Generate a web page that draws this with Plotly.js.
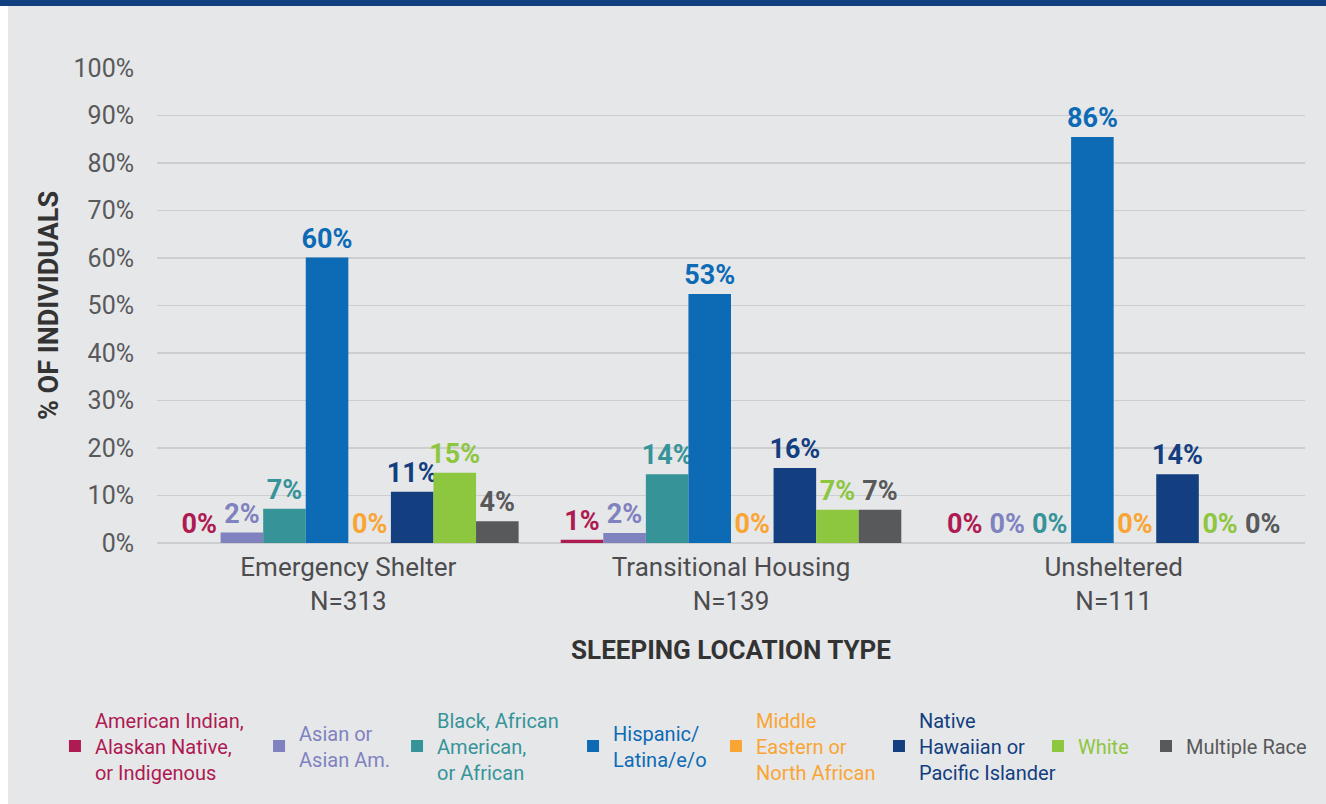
<!DOCTYPE html>
<html>
<head>
<meta charset="utf-8">
<script src="https://cdn.plot.ly/plotly-3.0.1.min.js"></script>
<style>
  html, body { margin: 0; padding: 0; background: #ffffff; }
  #wrap { position: relative; width: 1326px; height: 804px; background: #ffffff; overflow: hidden; }
  #topbar { position: absolute; left: 0; top: 0; width: 1326px; height: 6px; background: #123f80; }
  #chart { position: absolute; left: 8px; top: 6px; width: 1318px; height: 798px; }
</style>
</head>
<body>
<div id="wrap">
  <div id="topbar"></div>
  <div id="chart"></div>
</div>
<script>
// ---- Data ----
const categories = ["Emergency Shelter<br>N=313", "Transitional Housing<br>N=139", "Unsheltered<br>N=111"];

const seriesNames = [
  "American Indian,<br>Alaskan Native,<br>or Indigenous",
  "Asian or<br>Asian Am.",
  "Black, African<br>American,<br>or African",
  "Hispanic/<br>Latina/e/o",
  "Middle<br>Eastern or<br>North African",
  "Native<br>Hawaiian or<br>Pacific Islander",
  "White",
  "Multiple Race"
];

const seriesColors = ["#ae1a52", "#8082c0", "#369499", "#0d6bb5", "#f9a534", "#133e7f", "#8dc63f", "#58595b"];

// values per series: [Emergency Shelter, Transitional Housing, Unsheltered]
const americanIndian = [0, 0.7, 0];
const asian          = [2.2, 2.1, 0];
const black          = [7.2, 14.5, 0];
const hispanic       = [60.1, 52.4, 85.5];
const mena           = [0, 0, 0];
const nhpi           = [10.8, 15.8, 14.5];
const white          = [14.8, 7.0, 0];
const multiple       = [4.6, 7.0, 0];

// printed labels
const americanIndianLabels = ["0%", "1%", "0%"];
const asianLabels          = ["2%", "2%", "0%"];
const blackLabels          = ["7%", "14%", "0%"];
const hispanicLabels       = ["60%", "53%", "86%"];
const menaLabels           = ["0%", "0%", "0%"];
const nhpiLabels           = ["11%", "16%", "14%"];
const whiteLabels          = ["15%", "7%", "0%"];
const multipleLabels       = ["4%", "7%", "0%"];

const yTickVals = [0, 10, 20, 30, 40, 50, 60, 70, 80, 90, 100];
const yTickText = ["0%", "10%", "20%", "30%", "40%", "50%", "60%", "70%", "80%", "90%", "100%"];

const allValues = [americanIndian, asian, black, hispanic, mena, nhpi, white, multiple];
const allLabels = [americanIndianLabels, asianLabels, blackLabels, hispanicLabels, menaLabels, nhpiLabels, whiteLabels, multipleLabels];

const FONT = "Roboto, 'Open Sans', sans-serif";

// one legend per series so that each entry sits where the original puts it
const legendX = [-0.0889, 0.0889, 0.2091, 0.3624, 0.4869, 0.6289, 0.7674, 0.8615];
const legendIds = ["legend", "legend2", "legend3", "legend4", "legend5", "legend6", "legend7", "legend8"];

const traces = allValues.map((vals, i) => ({
  type: "bar",
  x: categories,
  y: vals,
  name: '<span style="color:' + seriesColors[i] + '">' + seriesNames[i] + '</span>',
  legend: legendIds[i],
  marker: { color: seriesColors[i], line: { width: 0 } },
  text: allLabels[i],
  textposition: "outside",
  textfont: { family: FONT, size: 27, color: seriesColors[i], weight: "bold" },
  constraintext: "none",
  cliponaxis: false,
  hoverinfo: "skip"
}));

const layout = {
  width: 1318,
  height: 798,
  paper_bgcolor: "#e6e7e9",
  plot_bgcolor: "#e6e7e9",
  margin: { l: 149, r: 21, t: 62, b: 261 },
  barmode: "group",
  bargap: 0.11,
  bargroupgap: 0,
  showlegend: true,
  font: { family: FONT, color: "#555555" },
  xaxis: {
    type: "category",
    showgrid: false,
    showline: false,
    zeroline: false,
    ticks: "",
    ticklabelstandoff: 6,
    tickfont: { family: FONT, size: 26, color: "#4d4d4f" },
    title: {
      text: "SLEEPING LOCATION TYPE",
      font: { family: FONT, size: 26, color: "#333333", weight: "bold" },
      standoff: 26
    }
  },
  yaxis: {
    range: [0, 100],
    tickmode: "array",
    tickvals: yTickVals,
    ticktext: yTickText,
    showgrid: true,
    gridcolor: "#cdcecf",
    gridwidth: 1.5,
    zeroline: true,
    zerolinecolor: "#cdcecf",
    zerolinewidth: 1.5,
    showline: false,
    ticks: "",
    ticklabelstandoff: 22,
    tickfont: { family: FONT, size: 25, color: "#58595b" },
    title: {
      text: "% OF INDIVIDUALS",
      font: { family: FONT, size: 27, color: "#333333", weight: "bold" },
      standoff: 7
    }
  }
};

legendIds.forEach((id, i) => {
  layout[id] = {
    orientation: "h",
    x: legendX[i],
    xanchor: "left",
    y: -0.4274,
    yanchor: "middle",
    valign: "middle",
    font: { family: FONT, size: 20, color: "#555555" },
    bgcolor: "rgba(0,0,0,0)",
    borderwidth: 0,
    itemclick: false,
    itemdoubleclick: false
  };
});

Plotly.newPlot("chart", traces, layout, { displayModeBar: false, staticPlot: true });
</script>
</body>
</html>
